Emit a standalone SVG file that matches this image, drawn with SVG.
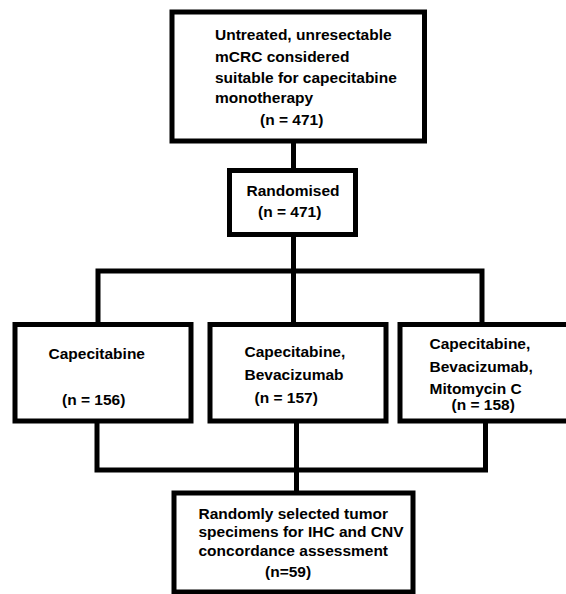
<svg xmlns="http://www.w3.org/2000/svg" width="566" height="594" viewBox="0 0 566 594">
<style>
.box{fill:#fff;stroke:#000;stroke-width:5}
.ln{fill:none;stroke:#000;stroke-width:5;stroke-linecap:square;stroke-linejoin:miter}
text{font-family:"Liberation Sans",Arial,sans-serif;font-weight:bold;font-size:15.5px;fill:#000}
</style>
<rect width="566" height="594" fill="#fff"/>
<g id="connectors">
<line class="ln" x1="293.5" y1="141" x2="293.5" y2="170.5"/>
<line class="ln" x1="293.5" y1="234.5" x2="293.5" y2="324.5"/>
<polyline class="ln" points="98,324.5 98,271 482,271 482,324.5"/>
<polyline class="ln" points="97,421 97,470 485.5,470 485.5,421"/>
<line class="ln" x1="296.5" y1="421" x2="296.5" y2="493"/>
</g>
<g id="n_top">
<rect class="box" x="172" y="12" width="252.5" height="129"/>
<text x="215" y="40">Untreated, unresectable</text>
<text x="215" y="61.5">mCRC considered</text>
<text x="215" y="83">suitable for capecitabine</text>
<text x="215" y="103">monotherapy</text>
<text x="260" y="124.5">(n = 471)</text>
</g>
<g id="n_rand">
<rect class="box" x="229.5" y="170.5" width="126" height="64"/>
<text x="246.5" y="195.5">Randomised</text>
<text x="258" y="217">(n = 471)</text>
</g>
<g id="n_cap">
<rect class="box" x="15" y="324.5" width="176" height="96.5"/>
<text x="48.5" y="359">Capecitabine</text>
<text x="62" y="405">(n = 156)</text>
</g>
<g id="n_capbev">
<rect class="box" x="210" y="324.5" width="176" height="96.5"/>
<text x="244.5" y="357">Capecitabine,</text>
<text x="244.5" y="380">Bevacizumab</text>
<text x="254.5" y="403">(n = 157)</text>
</g>
<g id="n_capbevmit">
<rect class="box" x="400" y="324.5" width="172" height="96.5"/>
<text x="429.5" y="349">Capecitabine,</text>
<text x="429.5" y="371.5">Bevacizumab,</text>
<text x="429.5" y="393.5">Mitomycin C</text>
<text x="451.5" y="410">(n = 158)</text>
</g>
<g id="n_sel">
<rect class="box" x="174" y="493" width="239" height="99"/>
<text x="198.5" y="518.5">Randomly selected tumor</text>
<text x="198.5" y="537">specimens for IHC and CNV</text>
<text x="198.5" y="556">concordance assessment</text>
<text x="265" y="576.5">(n=59)</text>
</g>
</svg>
